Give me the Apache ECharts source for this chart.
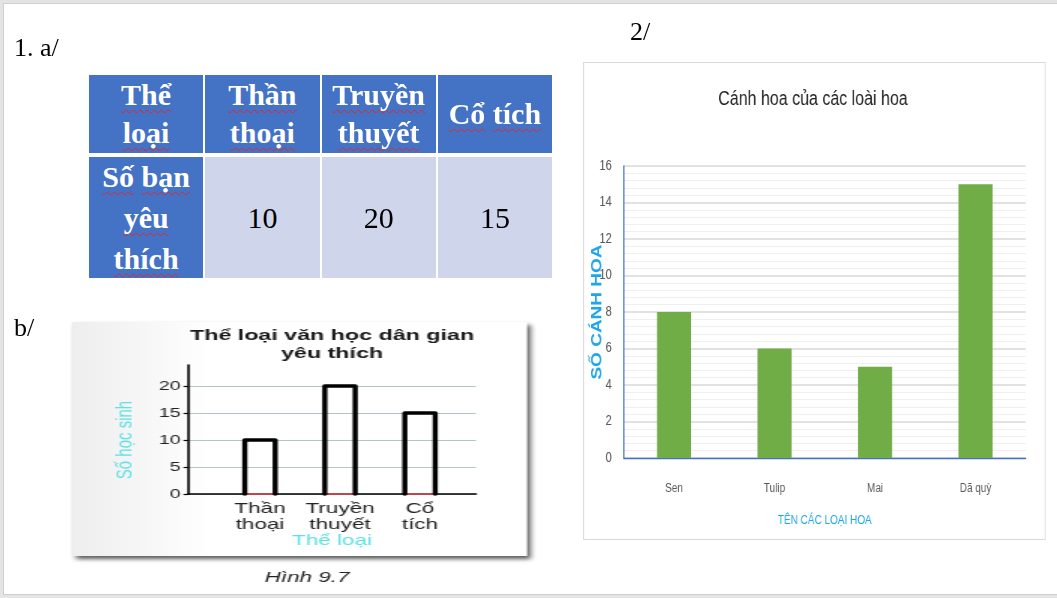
<!DOCTYPE html>
<html>
<head>
<meta charset="utf-8">
<script src="https://cdn.jsdelivr.net/npm/echarts@6/dist/echarts.min.js"></script>
<style>
html,body{margin:0;padding:0;width:1057px;height:598px;overflow:hidden;background:#e4e4e4;}
#slide{position:absolute;left:3px;top:3px;width:1054px;height:592px;background:#fff;border-top:1px solid #cfcfcf;border-left:1px solid #cfcfcf;border-bottom:1px solid #cfcfcf;box-sizing:border-box;}
#main{position:absolute;left:0;top:0;width:1057px;height:598px;}
#chartB{position:absolute;left:70px;top:316px;width:317px;height:276px;transform-origin:0 0;transform:scaleX(1.5);}
#chart2{position:absolute;left:583px;top:62px;width:578.75px;height:478px;transform-origin:0 0;transform:scaleX(0.8);}
#table{position:absolute;left:89px;top:75px;width:463px;display:grid;grid-template-columns:114.25px 114.25px 114.25px 114.25px;grid-template-rows:78px 121px;column-gap:2px;row-gap:4px;font-family:'Liberation Serif','Times New Roman',serif;font-size:30px;}
.cell{display:flex;align-items:center;justify-content:center;padding:0 6px;box-sizing:border-box;overflow:hidden;}
.cell > div{text-align:center;width:100%;}
.hd{background:#4472C4;color:#fff;font-weight:bold;line-height:38px;}
.rl{line-height:41px;}
.val{background:#CFD5EA;color:#000;}
.sq{text-decoration:underline wavy #e0262b;text-decoration-thickness:1px;text-underline-offset:4px;text-decoration-skip-ink:none;}
</style>
</head>
<body>
<div id="slide"></div>
<div id="main"></div>
<div id="chartB"></div>
<div id="chart2"></div>
<div id="table"></div>
<script>
// ---------- data ----------
const tableHeader = ['Thể loại', 'Thần thoại', 'Truyền thuyết', 'Cổ tích'];
const tableRowLabel = 'Số bạn yêu thích';
const genreCategories = ['Thần thoại', 'Truyền thuyết', 'Cổ tích'];
const genreStudents = [10, 20, 15];
const genreAxisMax = 20;
const genreAxisStep = 5;
const flowerCategories = ['Sen', 'Tulip', 'Mai', 'Dã quỳ'];
const flowerPetals = [8, 6, 5, 15];
const petalAxisMax = 16;
const petalAxisStep = 2;

// ---------- table ----------
function squiggle(text) {
  return text.split(' ').map(w => '<span class="sq">' + w + '</span>').join(' ');
}
const tbl = document.getElementById('table');
let html = '';
tableHeader.forEach(h => { html += '<div class="cell hd"><div>' + squiggle(h) + '</div></div>'; });
html += '<div class="cell hd rl"><div>' + squiggle(tableRowLabel) + '</div></div>';
genreStudents.forEach(v => { html += '<div class="cell val"><div>' + v + '</div></div>'; });
tbl.innerHTML = html;

const SANS = '"Liberation Sans", Arial, sans-serif';
const SERIF = '"Liberation Serif", "Times New Roman", serif';

// ---------- slide labels ----------
const main = echarts.init(document.getElementById('main'));
main.setOption({
  animation: false,
  graphic: [
    {type: 'text', x: 14, y: 49, style: {text: '1. a/', font: '26px ' + SERIF, fill: '#000', verticalAlign: 'middle'}},
    {type: 'text', x: 14, y: 329, style: {text: 'b/', font: '26px ' + SERIF, fill: '#000', verticalAlign: 'middle'}},
    {type: 'text', x: 630, y: 33, style: {text: '2/', font: '26px ' + SERIF, fill: '#000', verticalAlign: 'middle'}}
  ]
});

// ---------- chart b (horizontally stretched picture) ----------
const chartB = echarts.init(document.getElementById('chartB'));
chartB.setOption({
  animation: false,
  textStyle: {fontFamily: SANS},
  graphic: [
    {type: 'rect', z: -10, shape: {x: 1.3, y: 6, width: 303.4, height: 234},
      style: {fill: {type: 'linear', x: 0, y: 0, x2: 1, y2: 0, colorStops: [
        {offset: 0, color: '#eeeeee'}, {offset: 0.15, color: '#f6f6f6'}, {offset: 0.3, color: '#ffffff'}, {offset: 1, color: '#ffffff'}]},
        shadowBlur: 4, shadowOffsetX: 2.5, shadowOffsetY: 3, shadowColor: 'rgba(0,0,0,0.65)'}},
    {type: 'text', x: 174.7, y: 29, style: {text: 'Thể loại văn học dân gian\nyêu thích',
      font: 'bold 15.5px ' + SANS, fill: '#1a1a1a', align: 'center', verticalAlign: 'middle', lineHeight: 18}},
    {type: 'text', x: 158, y: 262, style: {text: 'Hình 9.7', font: 'italic 15px ' + SANS,
      fill: '#222', align: 'center', verticalAlign: 'middle'}}
  ],
  grid: [
    {left: 78.67, top: 49, width: 192, height: 129},
    {left: 78.67, top: 70, width: 192, height: 108},
    {left: 100, top: 70, width: 160, height: 108}
  ],
  xAxis: [
    {gridIndex: 0, type: 'value', min: 0, max: 1,
      axisLine: {show: true, lineStyle: {color: '#000', width: 1.6}},
      axisTick: {show: false}, axisLabel: {show: false}, splitLine: {show: false},
      name: 'Thể loại', nameLocation: 'middle', nameGap: 39, nameMoveOverlap: false,
      nameTextStyle: {color: '#5ee0e4', fontSize: 15, fontFamily: SANS}},
    {gridIndex: 1, type: 'value', show: false},
    {gridIndex: 2, type: 'category', data: genreCategories,
      axisLine: {show: false}, axisTick: {show: false},
      axisLabel: {interval: 0, margin: 7, fontSize: 15, lineHeight: 16, color: '#222', fontFamily: SANS,
        formatter: v => v.replace(' ', '\n')}}
  ],
  yAxis: [
    {gridIndex: 0, type: 'value', min: 0, max: 1,
      axisLine: {show: true, lineStyle: {color: '#000', width: 1.6}},
      axisTick: {show: false}, axisLabel: {show: false}, splitLine: {show: false}},
    {gridIndex: 1, type: 'value', min: 0, max: genreAxisMax, interval: genreAxisStep,
      axisLine: {show: false},
      axisTick: {show: true, length: 3, lineStyle: {color: '#000', width: 1.2}},
      axisLabel: {margin: 5, fontSize: 13, color: '#222', fontFamily: SANS},
      splitLine: {show: true, lineStyle: {color: '#b3c6c6', width: 1}},
      name: 'Số học sinh', nameLocation: 'middle', nameGap: 34, nameMoveOverlap: false,
      nameTextStyle: {color: '#5ee0e4', fontSize: 15, fontFamily: SANS}},
    {gridIndex: 2, type: 'value', min: 0, max: genreAxisMax, show: false}
  ],
  series: [{
    type: 'custom', xAxisIndex: 2, yAxisIndex: 2,
    data: genreStudents.map((v, i) => [i, v]),
    encode: {x: 0, y: 1},
    renderItem: (params, api) => {
      const i = api.value(0), v = api.value(1);
      const base = api.coord([i, 0]);
      const top = api.coord([i, v]);
      const hw = api.size([1, 0])[0] * 0.19;
      return {type: 'group', children: [
        {type: 'line', shape: {x1: base[0] - hw, y1: base[1], x2: base[0] + hw, y2: base[1]},
          style: {stroke: '#f04a5a', lineWidth: 1.5}},
        {type: 'polyline', shape: {points: [[base[0] - hw, base[1]], [top[0] - hw, top[1]], [top[0] + hw, top[1]], [base[0] + hw, base[1]]]},
          style: {stroke: '#000', lineWidth: 3.4, fill: null, lineJoin: 'round', lineCap: 'round'}}
      ]};
    }
  }]
});

// ---------- chart 2 (horizontally squeezed picture) ----------
const chart2 = echarts.init(document.getElementById('chart2'));
chart2.setOption({
  animation: false,
  textStyle: {fontFamily: SANS},
  graphic: [
    {type: 'rect', z: -10, shape: {x: 0.6, y: 0.5, width: 577.5, height: 477},
      style: {fill: '#ffffff', stroke: '#dadada', lineWidth: 1.2}},
    {type: 'text', x: 287.5, y: 37, style: {text: 'Cánh hoa của các loài hoa', font: '20px ' + SANS,
      fill: '#1f1f1f', align: 'center', verticalAlign: 'middle'}}
  ],
  grid: {left: 42.5, top: 104, width: 511, height: 292},
  xAxis: {type: 'category', data: flowerCategories,
    axisLine: {lineStyle: {color: '#4472C4', width: 1.4}}, axisTick: {show: false},
    axisLabel: {color: '#595959', fontSize: 12.5, margin: 24, fontFamily: SANS},
    name: 'TÊN CÁC LOẠI HOA', nameLocation: 'middle', nameGap: 56, nameMoveOverlap: false,
    nameTextStyle: {color: '#1fa6e8', fontSize: 12.5, fontFamily: SANS}},
  yAxis: {type: 'value', min: 0, max: petalAxisMax, interval: petalAxisStep,
    axisLine: {show: true, lineStyle: {color: '#4472C4', width: 1.5}}, axisTick: {show: false},
    axisLabel: {color: '#595959', fontSize: 14, margin: 15, fontFamily: SANS},
    splitLine: {lineStyle: {color: '#d9d9d9', width: 1.6}},
    minorTick: {show: false, splitNumber: 5},
    minorSplitLine: {show: true, lineStyle: {color: '#efefef', width: 1}},
    name: 'SỐ CÁNH HOA', nameLocation: 'middle', nameGap: 24, nameMoveOverlap: false,
    nameTextStyle: {color: '#1fa6e8', fontSize: 19, fontWeight: 'bold', fontFamily: SANS}},
  series: [{type: 'bar', data: flowerPetals, barWidth: 42.5, itemStyle: {color: '#70AD47'}}]
});
</script>
</body>
</html>
